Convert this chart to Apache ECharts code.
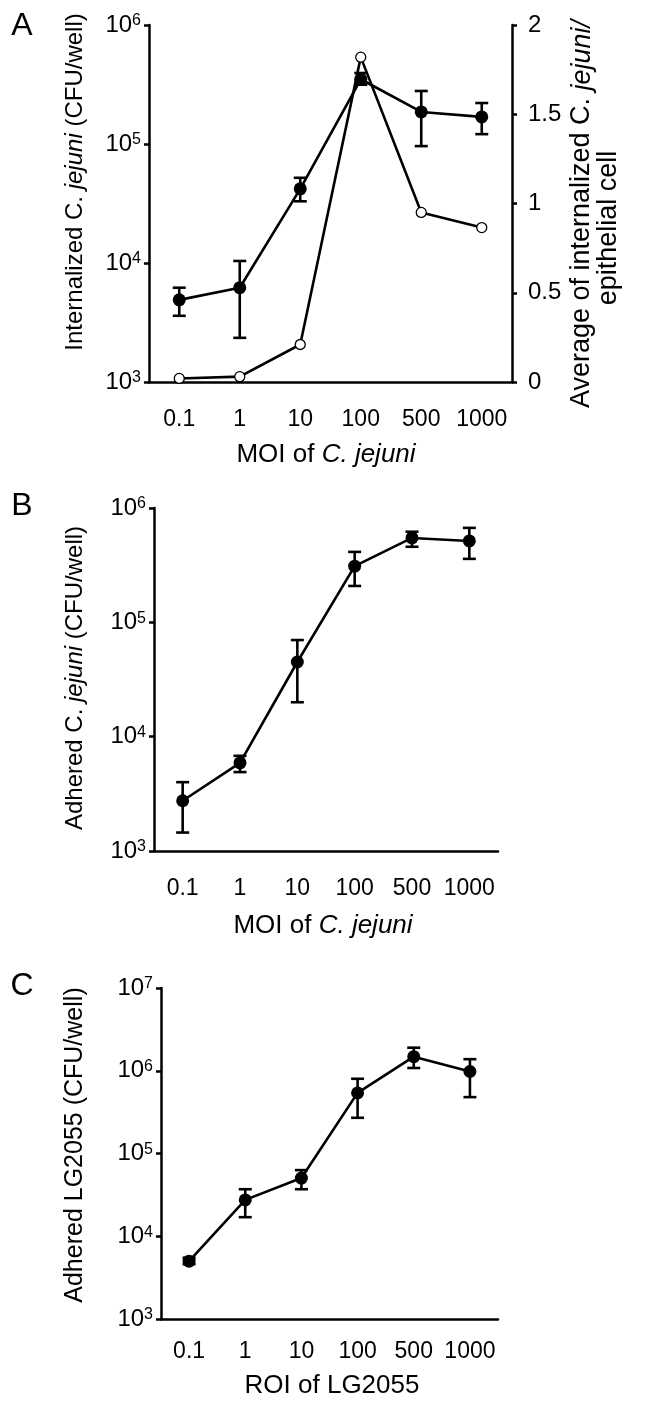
<!DOCTYPE html>
<html><head><meta charset="utf-8">
<script src="https://cdn.jsdelivr.net/npm/echarts@6/dist/echarts.min.js"></script>
<style>html,body{margin:0;padding:0;background:#fff}#c{width:648px;height:1402px}</style>
</head><body><div id="c"></div>
<script>
// ---- data ----
const categories = ['0.1', '1', '10', '100', '500', '1000'];

// Panel A: internalized C. jejuni (CFU/well), filled circles, left log axis
const aMean = [4900, 6200, 42000, 350000, 186000, 169000];
const aLow  = [3600, 2350, 33000, 315000, 96000, 121000];
const aHigh = [6200, 10400, 52000, 395000, 279000, 221000];
// Panel A: average internalized per epithelial cell, open circles, right axis
const aRatio = [0.02, 0.03, 0.21, 1.82, 0.95, 0.865];

// Panel B: adhered C. jejuni (CFU/well)
const bMean = [2750, 5900, 45000, 310000, 547000, 515000];
const bLow  = [1450, 4900, 20000, 208000, 458000, 359000];
const bHigh = [4000, 6800, 70000, 413000, 620000, 670000];

// Panel C: adhered LG2055 (CFU/well)
const cMean = [5000, 27500, 50500, 540000, 1480000, 980000];
const cLow  = [4600, 17000, 37000, 270000, 1080000, 480000];
const cHigh = [5500, 37000, 63000, 800000, 1900000, 1380000];

// ---- styling ----
const FONT = '"Liberation Sans", Arial, sans-serif';
const BLACK = '#000';
const LW = 2.6;

function logLabel(v) {
  const e = Math.round(Math.log10(v));
  return '{b|10}{s|' + e + '}';
}
const richY = {
  b: { fontSize: 24, fontFamily: FONT, color: BLACK },
  s: { fontSize: 16, fontFamily: FONT, color: BLACK, verticalAlign: 'top' }
};

function xAxis(gridIndex, margin) {
  return {
    type: 'category', gridIndex, data: categories, boundaryGap: true,
    axisLine: { lineStyle: { color: BLACK, width: 2.5 } },
    axisTick: { length: 7, lineStyle: { color: BLACK, width: 2.5 } },
    axisLabel: { margin, interval: 0, fontSize: 23, fontFamily: FONT, color: BLACK },
    splitLine: { show: false }
  };
}
function yLog(gridIndex, max) {
  return {
    type: 'log', logBase: 10, gridIndex, min: 1000, max,
    axisLine: { show: true, lineStyle: { color: BLACK, width: 2.5 } },
    axisTick: { show: true, length: 5, lineStyle: { color: BLACK, width: 2.5 } },
    minorTick: { show: false }, splitLine: { show: false },
    axisLabel: { formatter: logLabel, rich: richY, margin: 8 }
  };
}
function errSeries(xi, yi, low, high) {
  return {
    type: 'custom', xAxisIndex: xi, yAxisIndex: yi, silent: true, z: 3,
    data: low.map((l, i) => [i, l, high[i]]),
    encode: { x: 0, y: [1, 2] },
    renderItem(params, api) {
      const i = api.value(0);
      const p1 = api.coord([i, api.value(1)]);
      const p2 = api.coord([i, api.value(2)]);
      const w = 6.5;
      const st = { stroke: BLACK, lineWidth: LW };
      return { type: 'group', children: [
        { type: 'line', shape: { x1: p1[0], y1: p1[1], x2: p2[0], y2: p2[1] }, style: st },
        { type: 'line', shape: { x1: p1[0] - w, y1: p1[1], x2: p1[0] + w, y2: p1[1] }, style: st },
        { type: 'line', shape: { x1: p2[0] - w, y1: p2[1], x2: p2[0] + w, y2: p2[1] }, style: st }
      ] };
    }
  };
}
function filledLine(xi, yi, data) {
  return {
    type: 'line', xAxisIndex: xi, yAxisIndex: yi, data,
    symbol: 'circle', symbolSize: 13,
    lineStyle: { color: BLACK, width: LW }, itemStyle: { color: BLACK }, z: 4
  };
}

function hText(text, x, y, size, rich) {
  return { type: 'text', x, y, style: { text, fontSize: size, fontFamily: FONT, fill: BLACK,
    align: 'center', verticalAlign: 'middle', rich } };
}
function vText(text, x, y, size, rich) {
  return { type: 'text', x, y, rotation: Math.PI / 2, style: { text, fontSize: size, fontFamily: FONT,
    fill: BLACK, align: 'center', verticalAlign: 'middle', rich } };
}
const richT = (size) => ({
  n: { fontSize: size, fontFamily: FONT, fill: BLACK, color: BLACK },
  i: { fontSize: size, fontFamily: FONT, fontStyle: 'italic', fill: BLACK, color: BLACK }
});

const chart = echarts.init(document.getElementById('c'), null, { renderer: 'canvas' });
chart.setOption({
  animation: false,
  backgroundColor: '#fff',
  grid: [
    { left: 149, top: 25, width: 363, height: 357 },
    { left: 154, top: 508, width: 344, height: 343 },
    { left: 161, top: 988, width: 337, height: 331 }
  ],
  xAxis: [xAxis(0, 26), xAxis(1, 26), xAxis(2, 21)],
  yAxis: [
    yLog(0, 1e6),
    {
      type: 'value', gridIndex: 0, position: 'right', min: 0, max: 2, interval: 0.5,
      axisLine: { show: true, lineStyle: { color: BLACK, width: 2.5 } },
      axisTick: { show: true, length: 5, lineStyle: { color: BLACK, width: 2.5 } },
      splitLine: { show: false },
      axisLabel: { margin: 16, fontSize: 24, fontFamily: FONT, color: BLACK }
    },
    yLog(1, 1e6),
    yLog(2, 1e7)
  ],
  series: [
    errSeries(0, 0, aLow, aHigh),
    filledLine(0, 0, aMean),
    {
      type: 'line', xAxisIndex: 0, yAxisIndex: 1, data: aRatio,
      symbol: 'circle', symbolSize: 10,
      lineStyle: { color: BLACK, width: LW },
      itemStyle: { color: '#fff', borderColor: BLACK, borderWidth: 1.3 }, z: 5
    },
    errSeries(1, 2, bLow, bHigh),
    filledLine(1, 2, bMean),
    errSeries(2, 3, cLow, cHigh),
    filledLine(2, 3, cMean)
  ],
  graphic: [
    hText('A', 22, 26, 32),
    hText('B', 22, 506, 32),
    hText('C', 22, 986, 32),
    vText('{n|Internalized C. }{i|jejuni}{n| (CFU/well)}', 75, 182, 24, richT(24)),
    vText('{n|Average of internalized C. }{i|jejuni/}', 582, 214, 27, richT(27)),
    vText('epithelial cell', 609, 228, 27),
    hText('{n|MOI of }{i|C. jejuni}', 326, 455, 26, richT(26)),
    vText('{n|Adhered C. }{i|jejuni}{n| (CFU/well)}', 75, 678, 24, richT(24)),
    hText('{n|MOI of }{i|C. jejuni}', 323, 926, 26, richT(26)),
    vText('Adhered LG2055 (CFU/well)', 75, 1145, 25),
    hText('ROI of LG2055', 332, 1386, 26)
  ]
});
</script>
</body></html>
